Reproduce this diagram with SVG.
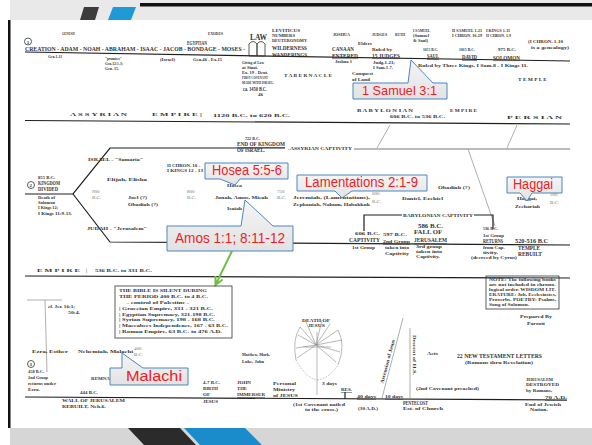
<svg xmlns="http://www.w3.org/2000/svg" width="592" height="445" viewBox="0 0 592 445">
<defs>
<style>
text{font-family:"Liberation Serif","DejaVu Serif",serif;font-weight:bold;fill:#333;font-size:5px}
.b{font-size:5.6px}
.lg{font-size:8px}
.u{text-decoration:underline}
.lt{fill:#777;font-weight:normal}
.ln{stroke:#1e1e1e;stroke-width:1.2;fill:none}
.gl{stroke:#9a9a9a;stroke-width:.8;fill:none}
.bx{stroke:#333;stroke-width:.8;fill:none}
.tr{stroke:#8a8a8a;stroke-width:.6;fill:none}
.co path{fill:url(#cg);stroke:#4a87c0;stroke-width:1}
.co text{font-family:"Liberation Sans",Arial,sans-serif;font-weight:normal;fill:#ee1c25;font-size:14px}
</style>
<linearGradient id="cg" x1="0" y1="0" x2="0" y2="1"><stop offset="0" stop-color="#f5f5f5"/><stop offset="1" stop-color="#e2e2e2"/></linearGradient>
</defs>
<rect width="592" height="445" fill="#fff"/>
<g id="frame">
<rect x="10" y="0" width="582" height="20" fill="#e9e9e9"/>
<rect x="140" y="3" width="452" height="3.5" fill="#111"/>
<polygon points="84,7 99,7 95,20 80,20" fill="#3c3c3c"/>
<polygon points="113,7 136,7 131,20 108,20" fill="#1e9ad6"/>
<rect x="8" y="20" width="2.5" height="408" fill="#111"/>
<rect x="10" y="428" width="582" height="17" fill="#d6d6d6"/>
<polygon points="128,428 180,428 196,445 144,445" fill="#2b2b2b"/>
<polygon points="184,428 245,428 262,445 200,445" fill="#1a8ccc"/>
</g>
<g id="connectors">
<path class="ln" d="M25,52 L570,61"/>
<path class="ln" d="M25,120.5 L570,124"/>
<path class="ln" d="M25,194 L73,194 L110,148 L285,148"/>
<path class="ln" d="M73,194 L110,242 L570,245"/>
<path d="M354,149 L570,149" stroke="#777" stroke-width="1" fill="none"/>
<path class="gl" d="M390,125 L377,148 M517,125 L507,148 M468,149 L495,226"/>
<path class="ln" stroke-width=".9" d="M364,231 V215 H402 M474,215 H493 V229"/>
<path class="ln" d="M25,276 L570,278"/>
<path class="gl" d="M27,300 H62 M45,300 L47,372"/>
<path class="ln" d="M25,397 L567,400"/>
<path class="gl" d="M382,398 L403,318 M410,328 V398"/>
<path class="ln" stroke-width="1" d="M345,392 V399"/>
<path d="M232,251 L216,284 M215.4,276.1 L215.5,285 L222.6,279.5" stroke="#70bf44" stroke-width="2" fill="none"/>
</g>
<g id="section1">
<circle cx="28" cy="41.5" r="3.5" class="bx"/><text x="26.7" y="43.5">1</text>
<text x="62" y="35" textLength="13" lengthAdjust="spacingAndGlyphs">GENESIS</text>
<text x="208" y="35" textLength="15" lengthAdjust="spacingAndGlyphs">EXODUS</text>
<text x="250" y="40" class="lg" textLength="17" lengthAdjust="spacingAndGlyphs">LAW</text>
<path class="bx" d="M249,56 V44 Q253,39 257,44 V56 Z M257,56 V44 Q261,39 265,44 V56 Z"/>
<text x="272" y="32" textLength="28" lengthAdjust="spacingAndGlyphs">LEVITICUS</text>
<text x="272" y="37" textLength="23" lengthAdjust="spacingAndGlyphs">NUMBERS</text>
<text x="272" y="42" textLength="35" lengthAdjust="spacingAndGlyphs">DEUTERONOMY</text>
<text x="272" y="50" class="b" textLength="35" lengthAdjust="spacingAndGlyphs">WILDERNESS</text>
<text x="272" y="57" class="b" textLength="35" lengthAdjust="spacingAndGlyphs">WANDERINGS</text>
<text x="333" y="36" textLength="17" lengthAdjust="spacingAndGlyphs">JOSHUA</text>
<text x="372" y="36" textLength="15" lengthAdjust="spacingAndGlyphs">JUDGES</text>
<text x="395" y="36" textLength="10" lengthAdjust="spacingAndGlyphs">RUTH</text>
<text x="358" y="45" textLength="14" lengthAdjust="spacingAndGlyphs">Elders</text>
<text x="332" y="51" class="b" textLength="22" lengthAdjust="spacingAndGlyphs">CANAAN</text>
<text x="332" y="57.5" class="b u" textLength="26" lengthAdjust="spacingAndGlyphs">ENTERED</text>
<text x="335" y="63" textLength="17" lengthAdjust="spacingAndGlyphs">Joshua 1</text>
<text x="372" y="51" textLength="20" lengthAdjust="spacingAndGlyphs">Ruled by</text>
<text x="372" y="57.5" class="b u" textLength="28" lengthAdjust="spacingAndGlyphs">15 JUDGES</text>
<text x="373" y="64" textLength="22" lengthAdjust="spacingAndGlyphs">Judg.1-21;</text>
<text x="373" y="69" textLength="20" lengthAdjust="spacingAndGlyphs">I Sam.1-7.</text>
<text x="352" y="75" textLength="21" lengthAdjust="spacingAndGlyphs">Conquest</text>
<text x="352" y="81" textLength="18" lengthAdjust="spacingAndGlyphs">of Land</text>
<text x="413" y="32" textLength="17" lengthAdjust="spacingAndGlyphs">I SAMUEL</text>
<text x="413" y="37" textLength="16" lengthAdjust="spacingAndGlyphs">(Samuel</text>
<text x="413" y="42" textLength="15" lengthAdjust="spacingAndGlyphs">&amp; Saul)</text>
<text x="423" y="51" textLength="15" lengthAdjust="spacingAndGlyphs">1055 B.C.</text>
<text x="427" y="58" class="b u" textLength="12" lengthAdjust="spacingAndGlyphs">SAUL</text>
<text x="452" y="32" textLength="30" lengthAdjust="spacingAndGlyphs">II SAMUEL 1-21</text>
<text x="452" y="37" textLength="30" lengthAdjust="spacingAndGlyphs">I CHRON. 10-29</text>
<text x="486" y="32" textLength="24" lengthAdjust="spacingAndGlyphs">I KINGS 1-11</text>
<text x="486" y="37" textLength="25" lengthAdjust="spacingAndGlyphs">II CHRON. 1-9</text>
<text x="459" y="51" textLength="16" lengthAdjust="spacingAndGlyphs">1015 B.C.</text>
<text x="462" y="59" class="b u" textLength="15" lengthAdjust="spacingAndGlyphs">DAVID</text>
<text x="498" y="51" textLength="18" lengthAdjust="spacingAndGlyphs">975 B.C.</text>
<text x="493" y="59.5" class="b u" textLength="27" lengthAdjust="spacingAndGlyphs">SOLOMON</text>
<text x="528" y="43" textLength="35" lengthAdjust="spacingAndGlyphs">(I CHRON. 1-10</text>
<text x="531" y="48.5" textLength="38" lengthAdjust="spacingAndGlyphs">is a genealogy)</text>
<text x="418" y="67" textLength="110" lengthAdjust="spacingAndGlyphs">Ruled by Three Kings, I Sam.8 - I Kings 11.</text>
<text x="284" y="77" textLength="48" lengthAdjust="spacingAndGlyphs">T A B E R N A C L E</text>
<text x="518" y="81" textLength="29" lengthAdjust="spacingAndGlyphs">T E M P L E</text>
<text x="25" y="51.3" class="b" textLength="220" lengthAdjust="spacingAndGlyphs">CREATION - ADAM - NOAH - ABRAHAM - ISAAC - JACOB - BONDAGE - MOSES -</text>
<text x="187" y="45.3" class="b" textLength="20" lengthAdjust="spacingAndGlyphs">EGYPTIAN</text>
<text x="48" y="57.5" textLength="14" lengthAdjust="spacingAndGlyphs">Gen.1-11</text>
<text x="105" y="60" textLength="17" lengthAdjust="spacingAndGlyphs">"promises"</text>
<text x="105" y="65" textLength="18" lengthAdjust="spacingAndGlyphs">Gen.12:1-3;</text>
<text x="105" y="70" textLength="14" lengthAdjust="spacingAndGlyphs">Gen. 15.</text>
<text x="160" y="61" textLength="15" lengthAdjust="spacingAndGlyphs">(Israel)</text>
<text x="193" y="61" textLength="29" lengthAdjust="spacingAndGlyphs">Gen.46 - Ex.15</text>
<text x="242" y="64" textLength="22" lengthAdjust="spacingAndGlyphs">Giving of Law</text>
<text x="242" y="69" textLength="16" lengthAdjust="spacingAndGlyphs">at Sinai.</text>
<text x="242" y="74" textLength="26" lengthAdjust="spacingAndGlyphs">Ex. 19 - Deut.</text>
<text x="242" y="79" textLength="26" lengthAdjust="spacingAndGlyphs">FIRST COVENANT</text>
<text x="242" y="84" textLength="32" lengthAdjust="spacingAndGlyphs">MADE WITH ISRAEL.</text>
<text x="243" y="91" class="b" textLength="24" lengthAdjust="spacingAndGlyphs">ca. 1450 B.C.</text>
<text x="258" y="96" textLength="5" lengthAdjust="spacingAndGlyphs">46</text>
</g>
<g id="section2">
<text x="70" y="116" textLength="57" lengthAdjust="spacingAndGlyphs">A S S Y R I A N</text>
<text x="152" y="116" textLength="50" lengthAdjust="spacingAndGlyphs">E M P I R E  |</text>
<text x="213" y="117" textLength="77" lengthAdjust="spacingAndGlyphs">1120 B.C. to 620 B.C.</text>
<text x="357" y="112" textLength="56" lengthAdjust="spacingAndGlyphs">B A B Y L O N I A N</text>
<text x="450" y="112" textLength="27" lengthAdjust="spacingAndGlyphs">E M P I R E</text>
<text x="390" y="118" textLength="55" lengthAdjust="spacingAndGlyphs">606 B.C. to 536 B.C.</text>
<text x="507" y="119" textLength="55" lengthAdjust="spacingAndGlyphs">P E R S I A N</text>
<text x="245" y="140" textLength="15" lengthAdjust="spacingAndGlyphs">722 B.C.</text>
<text x="237" y="146" class="b u" textLength="48" lengthAdjust="spacingAndGlyphs">END OF KINGDOM</text>
<text x="237" y="152" class="b" textLength="28" lengthAdjust="spacingAndGlyphs">OF ISRAEL.</text>
<text x="288" y="150" textLength="64" lengthAdjust="spacingAndGlyphs">-ASSYRIAN CAPTIVITY</text>
<text x="88" y="161" textLength="55" lengthAdjust="spacingAndGlyphs">ISRAEL - "Samaria"</text>
<text x="107" y="181" textLength="40" lengthAdjust="spacingAndGlyphs">Elijah, Elisha</text>
<text x="167" y="167" textLength="33" lengthAdjust="spacingAndGlyphs">II CHRON. 10 -</text>
<text x="167" y="172" textLength="36" lengthAdjust="spacingAndGlyphs">I KINGS 12 - 13</text>
<circle cx="31" cy="185" r="3.5" class="bx"/><text x="29.5" y="187">2</text>
<text x="38" y="179" textLength="17" lengthAdjust="spacingAndGlyphs">855 B.C.</text>
<text x="38" y="185" class="b" textLength="22" lengthAdjust="spacingAndGlyphs">KINGDOM</text>
<text x="38" y="191" class="b" textLength="20" lengthAdjust="spacingAndGlyphs">DIVIDED</text>
<text x="38" y="199" textLength="17" lengthAdjust="spacingAndGlyphs">Death of</text>
<text x="38" y="204" textLength="17" lengthAdjust="spacingAndGlyphs">Solomon</text>
<text x="38" y="209" textLength="20" lengthAdjust="spacingAndGlyphs">I Kings 12;</text>
<text x="38" y="215" textLength="34" lengthAdjust="spacingAndGlyphs">I Kings 11:9-13.</text>
<text x="92" y="193" class="lt">900</text><text x="92" y="199" class="lt">B.C.</text>
<text x="128" y="199" textLength="19" lengthAdjust="spacingAndGlyphs">Joel (?)</text>
<text x="128" y="206" textLength="30" lengthAdjust="spacingAndGlyphs">Obadiah (?)</text>
<text x="187" y="193" class="lt">800</text><text x="187" y="199" class="lt">B.C.</text>
<text x="215" y="199" textLength="53" lengthAdjust="spacingAndGlyphs">Jonah, Amos, Micah</text>
<text x="227" y="187" textLength="15" lengthAdjust="spacingAndGlyphs">Hosea</text>
<text x="227" y="210" textLength="15" lengthAdjust="spacingAndGlyphs">Isaiah</text>
<text x="277" y="193" class="lt">750</text><text x="277" y="199" class="lt">B.C.</text>
<text x="293" y="199" textLength="77" lengthAdjust="spacingAndGlyphs">Jeremiah, (Lamentations),</text>
<text x="293" y="206" textLength="77" lengthAdjust="spacingAndGlyphs">Zephaniah, Nahum, Habakkuk</text>
<text x="372" y="195" class="lt">600</text><text x="372" y="203" class="lt">B.C.</text>
<text x="438" y="189" textLength="32" lengthAdjust="spacingAndGlyphs">Obadiah (?)</text>
<text x="402" y="200" textLength="41" lengthAdjust="spacingAndGlyphs">Daniel, Ezekiel</text>
<text x="517" y="200" textLength="20" lengthAdjust="spacingAndGlyphs">Haggai,</text>
<text x="515" y="208" textLength="25" lengthAdjust="spacingAndGlyphs">Zechariah</text>
<text x="550" y="196" class="lt">500</text><text x="550" y="204" class="lt">B.C.</text>
<text x="87" y="230" textLength="60" lengthAdjust="spacingAndGlyphs">JUDAH - "Jerusalem"</text>
<text x="403" y="217" textLength="70" lengthAdjust="spacingAndGlyphs">BABYLONIAN CAPTIVITY</text>
<text x="355" y="235" textLength="25" lengthAdjust="spacingAndGlyphs">606 B.C.</text>
<text x="349" y="242" class="b u" textLength="31" lengthAdjust="spacingAndGlyphs">CAPTIVITY</text>
<text x="352" y="249" textLength="23" lengthAdjust="spacingAndGlyphs">1st Group</text>
<text x="383" y="236" textLength="24" lengthAdjust="spacingAndGlyphs">597 B.C.</text>
<text x="383" y="243" class="u" textLength="27" lengthAdjust="spacingAndGlyphs">2nd Group</text>
<text x="385" y="249" textLength="24" lengthAdjust="spacingAndGlyphs">taken into</text>
<text x="385" y="255" textLength="24" lengthAdjust="spacingAndGlyphs">Captivity</text>
<text x="418" y="228" class="b" textLength="25" lengthAdjust="spacingAndGlyphs">586 B.C.</text>
<text x="414" y="234" class="b" textLength="28" lengthAdjust="spacingAndGlyphs">FALL OF</text>
<text x="414" y="242" class="b u" textLength="33" lengthAdjust="spacingAndGlyphs">JERUSALEM</text>
<text x="416" y="248" textLength="26" lengthAdjust="spacingAndGlyphs">3rd group</text>
<text x="416" y="253" textLength="26" lengthAdjust="spacingAndGlyphs">taken into</text>
<text x="416" y="258" textLength="24" lengthAdjust="spacingAndGlyphs">Captivity.</text>
<text x="483" y="230" textLength="15" lengthAdjust="spacingAndGlyphs">536 B.C.</text>
<text x="483" y="237" textLength="21" lengthAdjust="spacingAndGlyphs">1st Group</text>
<text x="483" y="243" class="b u" textLength="20" lengthAdjust="spacingAndGlyphs">RETURNS</text>
<text x="483" y="249" textLength="22" lengthAdjust="spacingAndGlyphs">from Cap-</text>
<text x="483" y="254" textLength="15" lengthAdjust="spacingAndGlyphs">tivity.</text>
<text x="471" y="259" textLength="46" lengthAdjust="spacingAndGlyphs">(decreed by Cyrus)</text>
<text x="515" y="243" class="b" textLength="33" lengthAdjust="spacingAndGlyphs">520-516 B.C</text>
<text x="518" y="250" class="b" textLength="22" lengthAdjust="spacingAndGlyphs">TEMPLE</text>
<text x="518" y="256" class="b" textLength="24" lengthAdjust="spacingAndGlyphs">REBUILT</text>
</g>
<g id="section3">
<text x="37" y="272" textLength="43" lengthAdjust="spacingAndGlyphs">E M P I R E</text>
<text x="86" y="272">|</text>
<text x="95" y="272" textLength="57" lengthAdjust="spacingAndGlyphs">536 B.C. to 331 B.C.</text>
<g id="silent-box">
<rect x="115" y="286" width="117" height="52" class="bx"/>
<text x="119" y="292" textLength="88" lengthAdjust="spacingAndGlyphs">THE BIBLE IS SILENT DURING</text>
<text x="119" y="298" textLength="89" lengthAdjust="spacingAndGlyphs">THE PERIOD 400 B.C. to 4 B.C.</text>
<text x="127" y="304" textLength="62" lengthAdjust="spacingAndGlyphs">- control of Palestine -</text>
<text x="119" y="310" textLength="94" lengthAdjust="spacingAndGlyphs">| Graecian Empire, 331 - 321 B.C.</text>
<text x="119" y="315.5" textLength="96" lengthAdjust="spacingAndGlyphs">| Egyptian Supremacy, 321-198 B.C.</text>
<text x="119" y="321" textLength="96" lengthAdjust="spacingAndGlyphs">| Syrian Supremacy, 198 - 168 B.C.</text>
<text x="119" y="327" textLength="109" lengthAdjust="spacingAndGlyphs">| Maccabees Independence, 167 - 63 B.C.</text>
<text x="119" y="333" textLength="103" lengthAdjust="spacingAndGlyphs">| Roman Empire, 63 B.C. to 476 A.D.</text>
</g>
<g id="note-box">
<rect x="486" y="276" width="73" height="33" class="bx"/>
<text x="489" y="281" textLength="67" lengthAdjust="spacingAndGlyphs">NOTE: The following books</text>
<text x="489" y="286" textLength="67" lengthAdjust="spacingAndGlyphs">are not included in chrono-</text>
<text x="489" y="291" textLength="67" lengthAdjust="spacingAndGlyphs">logical order. WISDOM LIT-</text>
<text x="489" y="296" textLength="67" lengthAdjust="spacingAndGlyphs">ERATURE: Job, Ecclesiastes,</text>
<text x="489" y="301" textLength="67" lengthAdjust="spacingAndGlyphs">Proverbs. POETRY: Psalms,</text>
<text x="489" y="306" textLength="40" lengthAdjust="spacingAndGlyphs">Song of Solomon.</text>
</g>
<text x="520" y="318" textLength="32" lengthAdjust="spacingAndGlyphs">Prepared By</text>
<text x="527" y="325" textLength="18" lengthAdjust="spacingAndGlyphs">Parrott</text>
<text x="48" y="308" textLength="27" lengthAdjust="spacingAndGlyphs">cf. Jer. 16:1;</text>
<text x="68" y="314" textLength="12" lengthAdjust="spacingAndGlyphs">50:4.</text>
<text x="32" y="353" textLength="36" lengthAdjust="spacingAndGlyphs">Ezra, Esther</text>
<text x="78" y="353" textLength="55" lengthAdjust="spacingAndGlyphs">Nehemiah, Malachi</text>
<text x="134" y="350" class="lt">400</text><text x="134" y="356" class="lt">B.C.</text>
<circle cx="31" cy="364" r="3.5" class="bx"/><text x="29.5" y="366">3</text>
<text x="28" y="373" textLength="16" lengthAdjust="spacingAndGlyphs">458 B.C.</text>
<text x="28" y="379" textLength="20" lengthAdjust="spacingAndGlyphs">2nd Group</text>
<text x="28" y="385" textLength="28" lengthAdjust="spacingAndGlyphs">returns under</text>
<text x="28" y="391" textLength="12" lengthAdjust="spacingAndGlyphs">Ezra.</text>
<text x="91" y="380" textLength="26" lengthAdjust="spacingAndGlyphs">REMNANT</text>
<text x="80" y="394" textLength="18" lengthAdjust="spacingAndGlyphs">444 B.C.</text>
<text x="62" y="402" textLength="63" lengthAdjust="spacingAndGlyphs">WALL OF JERUSALEM</text>
<text x="62" y="408" textLength="44" lengthAdjust="spacingAndGlyphs">REBUILT, Neh.6.</text>
<text x="242" y="356" textLength="28" lengthAdjust="spacingAndGlyphs">Matthew, Mark,</text>
<text x="242" y="363" textLength="22" lengthAdjust="spacingAndGlyphs">Luke, John</text>
<text x="203" y="384" textLength="17" lengthAdjust="spacingAndGlyphs">4-7 B.C.</text>
<text x="203" y="390" textLength="15" lengthAdjust="spacingAndGlyphs">BIRTH</text>
<text x="203" y="396">OF</text>
<text x="203" y="403" textLength="15" lengthAdjust="spacingAndGlyphs">JESUS</text>
<text x="237" y="384" textLength="14" lengthAdjust="spacingAndGlyphs">JOHN</text>
<text x="237" y="390" textLength="10" lengthAdjust="spacingAndGlyphs">THE</text>
<text x="237" y="396" class="u" textLength="28" lengthAdjust="spacingAndGlyphs">IMMERSER</text>
<text x="273" y="385" textLength="23" lengthAdjust="spacingAndGlyphs">Personal</text>
<text x="273" y="391" textLength="22" lengthAdjust="spacingAndGlyphs">Ministry</text>
<text x="273" y="397" class="u" textLength="25" lengthAdjust="spacingAndGlyphs">of JESUS</text>
<g id="death-of-jesus">
<path class="tr" d="M317,332 V395 M303,347 H331 M316,345 L298,335 M316,345 L300,327 M316,345 L306,322 M316,345 L322,320 M316,345 L330,324 M316,345 L338,330 M316,345 L342,340 M316,345 L340,352 M316,345 L296,348 M316,345 L297,358 M316,345 L336,362 M300,327 Q292,340 296,360 M338,330 Q346,345 338,365"/>
<path class="tr" stroke-dasharray="1.5,1.5" d="M296,360 Q306,378 317,380 Q330,378 338,365"/>
<text x="302" y="322" textLength="28" lengthAdjust="spacingAndGlyphs">DEATH OF</text>
<text x="308" y="327" textLength="17" lengthAdjust="spacingAndGlyphs">JESUS</text>
</g>
<text x="322" y="385" textLength="15" lengthAdjust="spacingAndGlyphs">3 days</text>
<text x="341" y="391" class="u" textLength="11" lengthAdjust="spacingAndGlyphs">RES.</text>
<text x="357" y="398" class="u" textLength="19" lengthAdjust="spacingAndGlyphs">40 days</text>
<text x="385" y="398" class="u" textLength="18" lengthAdjust="spacingAndGlyphs">10 days</text>
<text x="293" y="406" textLength="52" lengthAdjust="spacingAndGlyphs">(1st Covenant nailed</text>
<text x="305" y="411" textLength="33" lengthAdjust="spacingAndGlyphs">to the cross.)</text>
<text x="358" y="410" textLength="20" lengthAdjust="spacingAndGlyphs">(30 A.D.)</text>
<text transform="translate(389,362) rotate(-75)" text-anchor="middle" textLength="45" lengthAdjust="spacingAndGlyphs">Ascension of Jesus</text>
<text transform="translate(413,355) rotate(90)" text-anchor="middle" textLength="40" lengthAdjust="spacingAndGlyphs">Descent of H.S.</text>
<text x="403" y="405" class="b" textLength="25" lengthAdjust="spacingAndGlyphs">PENTECOST</text>
<text x="403" y="410" textLength="40" lengthAdjust="spacingAndGlyphs">Est. of Church</text>
<text x="427" y="355" textLength="11" lengthAdjust="spacingAndGlyphs">Acts</text>
<text x="457" y="358" class="b" textLength="85" lengthAdjust="spacingAndGlyphs">22 NEW TESTAMENT LETTERS</text>
<text x="465" y="364" textLength="68" lengthAdjust="spacingAndGlyphs">(Romans thru Revelation)</text>
<text x="416" y="390" textLength="63" lengthAdjust="spacingAndGlyphs">(2nd Covenant preached)</text>
<text x="526" y="381" textLength="27" lengthAdjust="spacingAndGlyphs">JERUSALEM</text>
<text x="526" y="386" textLength="33" lengthAdjust="spacingAndGlyphs">DESTROYED</text>
<text x="526" y="392" textLength="26" lengthAdjust="spacingAndGlyphs">by Romans,</text>
<text x="545" y="399" class="u" textLength="22" lengthAdjust="spacingAndGlyphs">70 A.D.</text>
<text x="525" y="406" textLength="36" lengthAdjust="spacingAndGlyphs">End of Jewish</text>
<text x="530" y="411" textLength="18" lengthAdjust="spacingAndGlyphs">Nation.</text>
</g>
<g id="callout-samuel" class="co">
<path d="M353,83 H408 L411,60 L433,83 H447 V99 H353 Z"/>
<text x="362" y="95" style="font-size:13px" textLength="75" lengthAdjust="spacingAndGlyphs">1 Samuel 3:1</text>
</g>
<g id="callout-hosea" class="co">
<path d="M205,163 H288 V179 H240 L235,185 L220,179 H205 Z"/>
<text x="212" y="175" textLength="70" lengthAdjust="spacingAndGlyphs">Hosea 5:5-6</text>
</g>
<g id="callout-lamentations" class="co">
<path d="M297,175 H427 V191 H352 L342,198 L335,191 H297 Z"/>
<text x="305" y="187" textLength="113" lengthAdjust="spacingAndGlyphs">Lamentations 2:1-9</text>
</g>
<g id="callout-haggai" class="co">
<path d="M507,177 H562 V193 H532 L527,201 L520,193 H507 Z"/>
<text x="513" y="189" textLength="40" lengthAdjust="spacingAndGlyphs">Haggai</text>
</g>
<g id="callout-amos" class="co">
<path d="M167,226 H241 L245,200 L273,226 H293 V251 H167 Z"/>
<text x="175" y="243" style="font-size:15px" textLength="110" lengthAdjust="spacingAndGlyphs">Amos 1:1; 8:11-12</text>
</g>
<g id="callout-malachi" class="co">
<path d="M110,368 H122 V353 L143,368 H188 V385 H110 Z"/>
<text x="126" y="381" textLength="56" lengthAdjust="spacingAndGlyphs">Malachi</text>
</g>
</svg>
